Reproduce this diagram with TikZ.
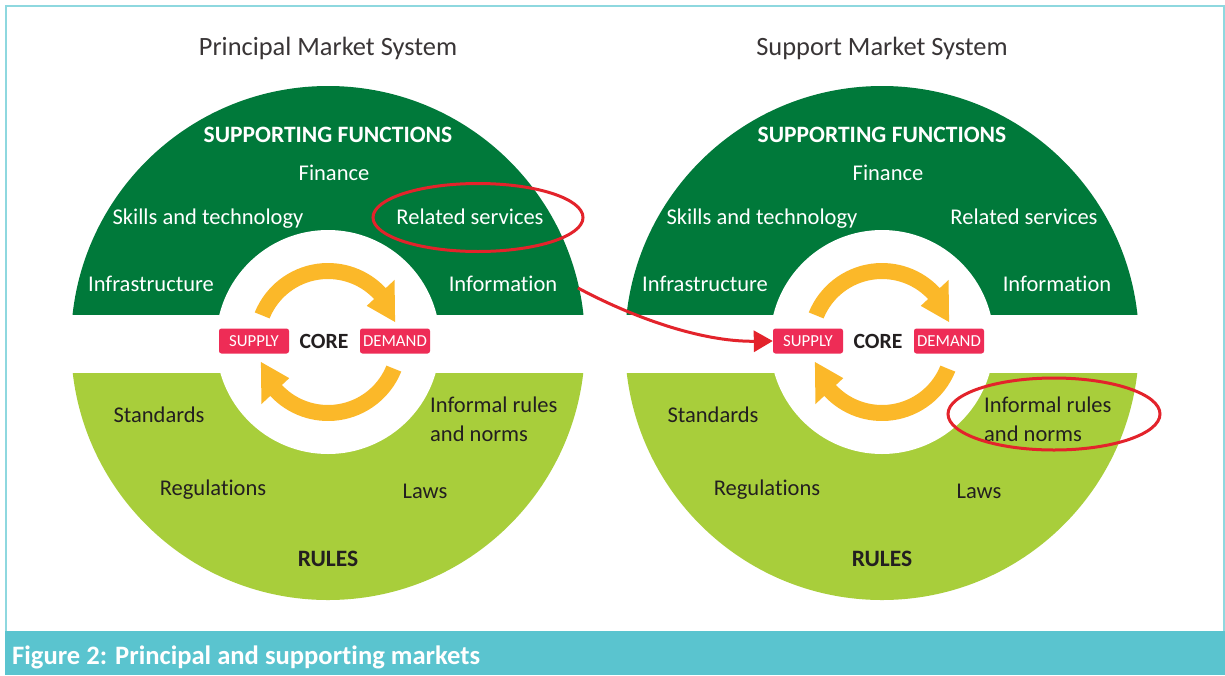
\documentclass[tikz,border=0pt]{standalone}
\usepackage{fontspec}
\setmainfont[Ligatures={NoCommon}]{Carlito}
\usetikzlibrary{arrows.meta}
\definecolor{dkgreen}{HTML}{00793A}
\definecolor{ltgreen}{HTML}{A8CE3B}
\definecolor{arrowyel}{HTML}{FBB829}
\definecolor{pinkbox}{HTML}{EE2C56}
\definecolor{ringred}{HTML}{E3232B}
\definecolor{frameteal}{HTML}{8ED8DF}
\definecolor{captteal}{HTML}{5AC4CF}
\definecolor{txtdark}{HTML}{231F20}
\tikzset{
  wtxt/.style={text=white, font=\fontsize{22.5}{27}\selectfont, inner sep=0pt},
  dtxt/.style={text=txtdark, font=\fontsize{22.5}{29}\selectfont, inner sep=0pt},
  headw/.style={text=white, font=\fontsize{23.5}{27}\selectfont\bfseries, inner sep=0pt},
  headd/.style={text=txtdark, font=\fontsize{23.5}{27}\selectfont\bfseries, inner sep=0pt},
  lab/.style={fill=pinkbox, text=white, rounded corners=2.5pt, minimum width=70pt,
              minimum height=25pt, inner sep=0pt, font=\fontsize{16.8}{20}\selectfont},
  coretxt/.style={text=txtdark, font=\fontsize{21.7}{26}\selectfont\bfseries, inner sep=0pt},
  ttl/.style={text=txtdark!90, font=\fontsize{26.4}{30}\selectfont, inner sep=0pt},
  ring/.style={draw=ringred, line width=3pt},
  cyclearrow/.style={fill=arrowyel},
}
\begin{document}
\begin{tikzpicture}[x=1pt,y=-1pt]
\useasboundingbox (0,0) rectangle (1225,675);
\fill[white] (0,0) rectangle (1225,675);
% frame
\draw[frameteal, line width=2pt] (6,660) -- (6,6) -- (1223.5,6) -- (1223.5,660);
\fill[captteal] (5,631) rectangle (1225,675);
\node[anchor=west, text=white, font=\fontsize{26.6}{32}\selectfont\bfseries, inner sep=0pt] (caption) at (12,657) {Figure 2: Principal and supporting markets};

\foreach \cx/\s in {328/L, 882/R} {
  \begin{scope}
    \clip (\cx-260,0) rectangle (\cx+260,314);
    \fill[dkgreen] (\cx,343) circle[radius=257];
  \end{scope}
  \begin{scope}
    \clip (\cx-260,373) rectangle (\cx+260,620);
    \fill[ltgreen] (\cx,343) circle[radius=257];
  \end{scope}
  \fill[white] (\cx,342) circle[radius=112];
  \begin{scope}[shift={(\cx,342)}, yscale=-1]
    \fill[cyclearrow] (158:79) arc[start angle=158,end angle=43,radius=79] -- (43:91) -- (16.6:70) -- (43:53) -- (43:63) arc[start angle=43,end angle=158,radius=63] -- cycle;
    \fill[cyclearrow, rotate=180] (158:79) arc[start angle=158,end angle=43,radius=79] -- (43:91) -- (16.6:70) -- (43:53) -- (43:63) arc[start angle=43,end angle=158,radius=63] -- cycle;
  \end{scope}
  \node[headw] (sf\s) at (\cx,135) {SUPPORTING FUNCTIONS};
  \node[wtxt] (fin\s) at (\cx+6,173) {Finance};
  \node[wtxt] (skl\s) at (\cx-120,219) {Skills and technology};
  \node[wtxt] (rel\s) at (\cx+142,217) {Related services};
  \node[wtxt] (inf\s) at (\cx-177,284) {Infrastructure};
  \node[wtxt] (info\s) at (\cx+175,284) {Information};
  \node[lab] (sup\s) at (\cx-74,341) {SUPPLY};
  \node[coretxt] (core\s) at (\cx-4,341) {CORE};
  \node[lab] (dem\s) at (\cx+67,341) {DEMAND};
  \node[dtxt] (std\s) at (\cx-169,415) {Standards};
  \node[dtxt, anchor=west, align=left] (irn\s) at (\cx+102,419) {Informal rules\\and norms};
  \node[dtxt] (reg\s) at (\cx-115,490) {Regulations};
  \node[dtxt] (law\s) at (\cx+97,491) {Laws};
  \node[headd] (rul\s) at (\cx,559) {RULES};
}
\node[ttl] (titleL) at (328,48) {Principal Market System};
\node[ttl] (titleR) at (882,48) {Support Market System};

% highlights
\draw[ring] (478,217.5) ellipse[x radius=105, y radius=34];
\draw[ring] (1054,414) ellipse[x radius=106, y radius=36];
\coordinate (redstart) at (578,288);
\draw[ringred, line width=3pt, -{Triangle[length=19pt,width=21pt]}] (redstart) .. controls (630,316) and (700,342) .. (supR.west);
\end{tikzpicture}
\end{document}
